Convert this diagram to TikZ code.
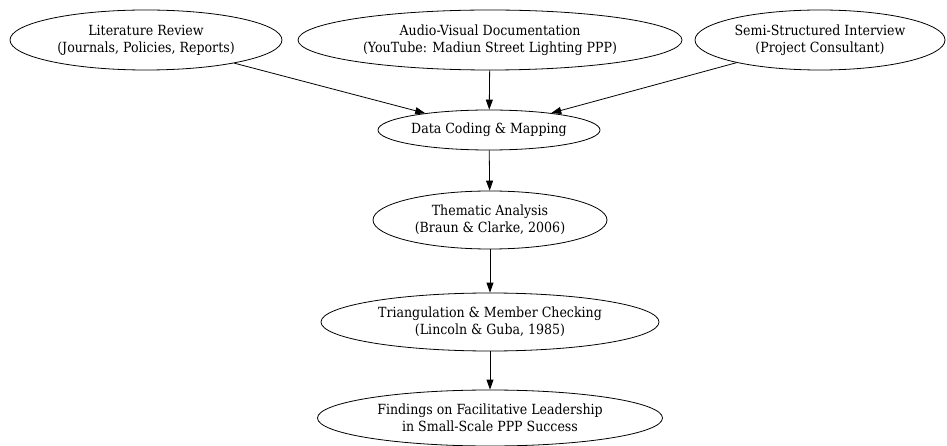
\documentclass[tikz,border=0pt]{standalone}
\usepackage{fontspec}
\setmainfont{DejaVu Serif Condensed}
\usetikzlibrary{shapes.geometric,arrows.meta}
\begin{document}
\begin{tikzpicture}[x=1pt,y=-1pt,
  ell/.style={ellipse,draw,line width=0.8pt,inner sep=0pt,align=center,font=\fontsize{14}{17}\selectfont},
  conn/.style={line width=0.8pt,-{Triangle[length=10pt,width=7pt]}}]
\useasboundingbox (0,0) rectangle (947,446);
\node[ell,minimum width=272pt,minimum height=60pt] (lit) at (146,40) {Literature Review\\(Journals, Policies, Reports)};
\node[ell,minimum width=384pt,minimum height=60pt] (av) at (490,40) {Audio-Visual Documentation\\(YouTube: Madiun Street Lighting PPP)};
\node[ell,minimum width=250pt,minimum height=60pt] (semi) at (820,40) {Semi-Structured Interview\\(Project Consultant)};
\node[ell,minimum width=222pt,minimum height=40pt] (code) at (489,130) {Data Coding \& Mapping};
\node[ell,minimum width=234pt,minimum height=58pt] (them) at (490,220) {Thematic Analysis\\(Braun \& Clarke, 2006)};
\node[ell,minimum width=338pt,minimum height=58pt] (tri) at (490,322) {Triangulation \& Member Checking\\(Lincoln \& Guba, 1985)};
\node[ell,minimum width=345pt,minimum height=56pt] (find) at (490,418) {Findings on Facilitative Leadership\\in Small-Scale PPP Success};
\draw[conn] (lit) -- (code);
\draw[conn] (av) -- (code);
\draw[conn] (semi) -- (code);
\draw[conn] (code) -- (them);
\draw[conn] (them) -- (tri);
\draw[conn] (tri) -- (find);
\end{tikzpicture}
\end{document}
